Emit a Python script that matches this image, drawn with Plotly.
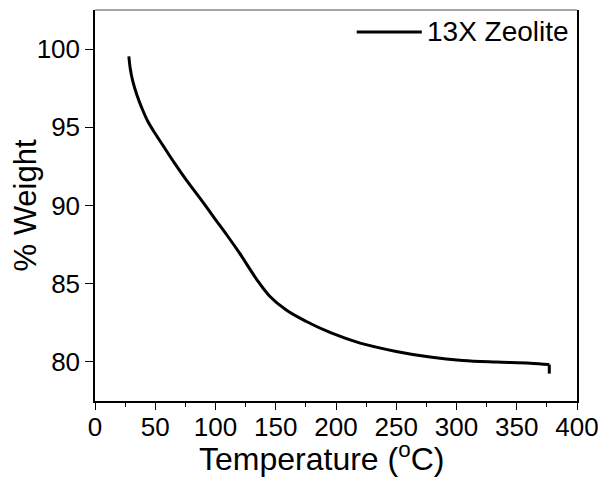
import plotly.graph_objects as go

# Data
temperature = [28.1, 29.2, 31.4, 34.7, 38.9, 43.9, 50.2, 56.3, 66.0, 75.7, 86.8, 100.0,
               110.0, 120.0, 134.0, 145.0, 159.0, 175.0, 196.0, 220.0, 250.0,
               278.0, 305.0, 333.0, 361.0, 377.0, 377.0]
weight = [99.53, 98.78, 97.93, 97.08, 96.23, 95.37, 94.57, 93.85, 92.71, 91.64, 90.5, 89.1,
          88.05, 86.95, 85.3, 84.2, 83.3, 82.6, 81.85, 81.2, 80.67,
          80.31, 80.09, 79.99, 79.92, 79.83, 79.25]
series_name = "13X Zeolite"
x_ticks = [0, 50, 100, 150, 200, 250, 300, 350, 400]
y_ticks = [80, 85, 90, 95, 100]
x_title = "Temperature (<sup>o</sup>C)"
y_title = "% Weight"

FONT = "Liberation Sans, Arial, sans-serif"

fig = go.Figure()
# smooth part of the curve
fig.add_trace(go.Scatter(
    x=temperature[:-1], y=weight[:-1], mode="lines", name=series_name,
    line=dict(color="black", width=3, shape="spline", smoothing=1.0),
    showlegend=False,
))
# final sharp drop at the end of the run
fig.add_trace(go.Scatter(
    x=temperature[-2:], y=weight[-2:], mode="lines", name=series_name,
    line=dict(color="black", width=3), showlegend=False,
))

# Manual legend (line sample + label)
fig.add_shape(type="line", xref="paper", yref="paper",
              x0=0.543, x1=0.678, y0=0.944, y1=0.944,
              line=dict(color="black", width=3))
fig.add_annotation(text=series_name, xref="paper", yref="paper",
                   x=0.684, y=0.944, xanchor="left", yanchor="middle",
                   showarrow=False, font=dict(family=FONT, size=28, color="black"))
# x-axis title (as annotation for exact placement)
fig.add_annotation(text=x_title, xref="paper", yref="paper",
                   x=0.470, y=-0.143, xanchor="center", yanchor="middle",
                   showarrow=False, font=dict(family=FONT, size=32, color="black"))
# Gray top border
fig.add_shape(type="line", xref="paper", yref="paper", x0=0, x1=1, y0=1, y1=1,
              line=dict(color="#888888", width=1.5))

# The page body has an 8px margin, so the figure is shrunk by 8px and margins shifted
fig.update_layout(
    width=598, height=469,
    margin=dict(l=87, r=29, t=2, b=76),
    paper_bgcolor="white", plot_bgcolor="white",
    font=dict(family=FONT, size=26, color="black"),
    xaxis=dict(
        range=[0, 400], tickvals=x_ticks, ticktext=[str(v) for v in x_ticks],
        showgrid=False, zeroline=False, automargin=False,
        showline=True, linecolor="black", linewidth=1.5, mirror=False,
        ticks="outside", ticklen=7, tickwidth=1.2, tickcolor="black",
        minor=dict(ticks="outside", ticklen=4, tickwidth=1, tickcolor="black", dtick=25, tick0=0),
        tickfont=dict(family=FONT, size=26), ticklabelstandoff=-5,
    ),
    yaxis=dict(
        range=[77.5, 102.5], tickvals=y_ticks, ticktext=[str(v) for v in y_ticks],
        showgrid=False, zeroline=False, automargin=False,
        showline=True, linecolor="black", linewidth=1.5, mirror=True,
        ticks="outside", ticklen=8, tickwidth=1.2, tickcolor="black",
        tickfont=dict(family=FONT, size=26),
        title=dict(text=y_title, font=dict(family=FONT, size=31), standoff=8),
    ),
)

fig.write_html("out.html")
